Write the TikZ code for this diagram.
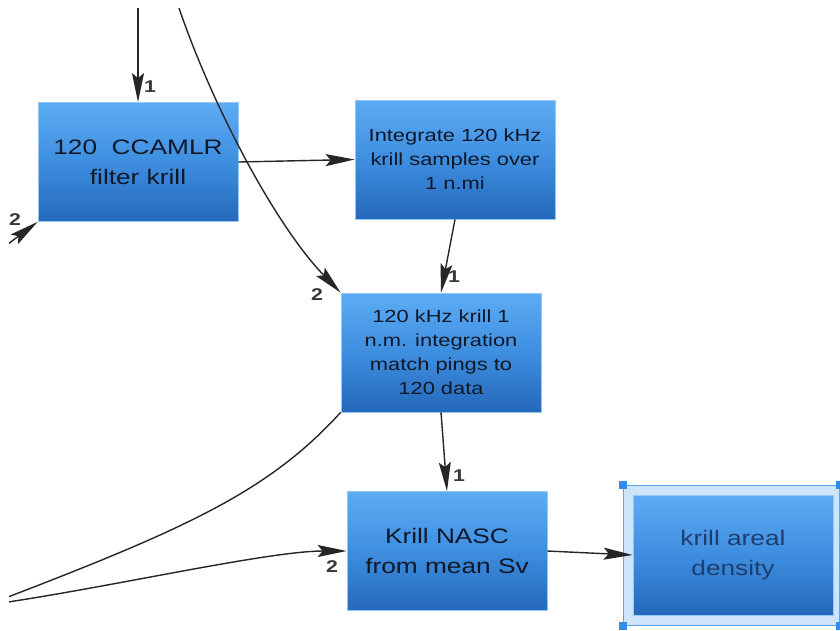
\documentclass[tikz,border=0pt]{standalone}
\usepackage{fontspec}
\newfontfamily\wide[FakeStretch=1.25]{Liberation Sans}
\usetikzlibrary{arrows.meta}
\definecolor{boxtop}{RGB}{92,172,244}
\definecolor{boxmid}{RGB}{62,142,224}
\definecolor{boxbot}{RGB}{36,104,186}
\definecolor{boxedge}{RGB}{150,200,245}
\definecolor{boxtext}{RGB}{16,24,40}
\definecolor{seltext}{RGB}{30,62,112}
\definecolor{selfill}{RGB}{205,228,250}
\definecolor{seledge}{RGB}{88,166,238}
\definecolor{handlec}{RGB}{52,140,232}
\definecolor{linec}{RGB}{38,38,38}
\definecolor{labelc}{RGB}{55,55,55}
\tikzset{
  proc/.style={rectangle, minimum width=200pt, minimum height=119pt, inner sep=0pt,
    top color=boxtop, bottom color=boxbot, middle color=boxmid,
    draw=boxedge, line width=0.7pt, align=center, text=boxtext},
  selframe/.style={rectangle, minimum width=216pt, minimum height=140pt, inner sep=0pt,
    fill=selfill, draw=seledge, line width=1pt},
  handle/.style={rectangle, minimum size=8pt, inner sep=0pt, fill=handlec},
  conn/.style={draw=linec, line width=1.4pt, -{Stealth[length=29pt,width=12pt,inset=5pt]}},
  plainline/.style={draw=linec, line width=1.4pt},
  lbl/.style={font=\wide\bfseries\fontsize{17}{17}\selectfont, text=labelc, inner sep=0pt},
  bigtxt/.style={font=\wide\fontsize{21}{30}\selectfont},
  midtxt/.style={font=\wide\fontsize{17.5}{24}\selectfont},
}
\begin{document}
\begin{tikzpicture}[x=1pt,y=-1pt]
\useasboundingbox (0,0) rectangle (840,630);
\fill[white] (0,0) rectangle (840,630);
\clip (9,7) rectangle (840,630);
% nodes
\node[proc, bigtxt] (A) at (138,162) {120~~CCAMLR\\filter krill};
\node[proc, midtxt] (B) at (455,159.5) {Integrate 120 kHz\\krill samples over\\1 n.mi};
\node[proc, midtxt] (C) at (441,352.5) {120 kHz krill 1\\n.m. integration\\match pings to\\120 data};
\node[proc, bigtxt] (D) at (447,551) {Krill NASC\\from mean Sv};
\node[selframe] (Ef) at (731,555) {};
\node[proc, bigtxt, minimum height=120pt, text=seltext] (E) at (733,555) {krill areal\\density};
\node[handle] (h1) at (Ef.north west) {};
\node[handle] (h2) at (Ef.south west) {};
\node[handle] (h3) at (Ef.north east) {};
\node[handle] (h4) at (Ef.south east) {};
% free ends
\coordinate (t1) at (138,8);
\coordinate (t2) at (179,8);
\coordinate (l1) at (-20,265);
\coordinate (l2) at (8,597);
\coordinate (l3) at (8,602);
% connectors
\draw[conn] (t1) -- (A.north);
\draw[conn] (t2) .. controls (212,105) and (275,225) .. (C.north west);
\draw[conn] (A.east) -- (B.west);
\draw[conn] (l1) -- (A.south west);
\draw[conn] (B.south) -- (C.north);
\draw[conn] (C.south) -- (D.north);
\draw[plainline] (C.south west) .. controls (270,490) and (190,527) .. (l2);
\draw[conn] (l3) .. controls (120,585) and (270,551) .. (D.west);
\draw[conn] (D.east) -- (E.west);
% labels
\node[lbl] (n1) at (150,87) {1};
\node[lbl] (n2) at (15,220) {2};
\node[lbl] (n3) at (317,295) {2};
\node[lbl] (n4) at (454,277) {1};
\node[lbl] (n5) at (459,476) {1};
\node[lbl] (n6) at (332,567) {2};
\end{tikzpicture}
\end{document}
